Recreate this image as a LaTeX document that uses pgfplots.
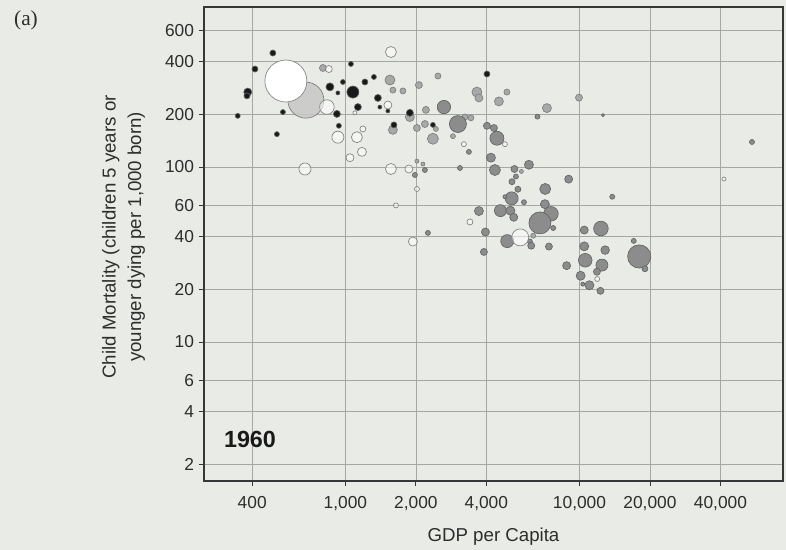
\documentclass[border=0pt]{standalone}
\usepackage{pgfplots}
\pgfplotsset{compat=1.18}
\usepackage{fontspec}
\setmainfont{Liberation Sans}
\newfontfamily\seriffont{Liberation Serif}
\definecolor{bg}{RGB}{233,235,230}
\definecolor{gridc}{RGB}{165,167,163}
\definecolor{axc}{RGB}{55,55,55}
\definecolor{txt}{RGB}{45,45,45}
\definecolor{gfill}{RGB}{140,140,140}
\definecolor{gdraw}{RGB}{100,100,100}
\definecolor{lfill}{RGB}{168,168,168}
\definecolor{ldraw}{RGB}{125,125,125}
\definecolor{kfill}{RGB}{25,25,25}
\definecolor{kdraw}{RGB}{95,95,95}
\definecolor{wdraw}{RGB}{130,130,130}
\pgfplotsset{
  bubble/.style n args={3}{scatter, only marks, mark=*,
    scatter/use mapped color={draw=#1, fill=#2, fill opacity=#3},
    visualization depends on={0.75*\thisrow{r} \as \rr},
    scatter/@pre marker code/.append style={/tikz/mark size=\rr},
    line width=0.5pt}
}
\begin{document}
\begin{tikzpicture}
\fill[bg] (0,0) rectangle (589.5pt,412.5pt);
\useasboundingbox (0,0) rectangle (589.5pt,412.5pt);
\begin{axis}[
  at={(153pt,51.75pt)}, anchor=south west,
  scale only axis, width=434.25pt, height=355.5pt,
  xmode=log, ymode=log,
  xmin=249, xmax=74000, ymin=1.605, ymax=821,
  xtick={400,1000,2000,4000,10000,20000,40000},
  xticklabels={400,{1,000},{2,000},{4,000},{10,000},{20,000},{40,000}},
  ytick={2,4,6,10,20,40,60,100,200,400,600},
  yticklabels={2,4,6,10,20,40,60,100,200,400,600},
  minor tick num=0,
  grid=major,
  grid style={gridc, line width=0.5pt},
  axis line style={axc, line width=0.9pt},
  tick style={axc, line width=0.6pt},
  major tick length=4pt,
  tick align=outside,
  tick pos=left,
  ticklabel style={font=\fontsize{13}{15}\selectfont, text=txt},
  xticklabel style={yshift=-4pt},
  xlabel={GDP per Capita},
  xlabel style={font=\fontsize{14}{17}\selectfont, text=txt, at={(axis description cs:0.5,-0.118)}, anchor=center},
  ylabel={Child Mortality (children 5 years or\\younger dying per 1,000 born)},
  ylabel style={align=center, font=\fontsize{14}{19}\selectfont, text=txt, at={(axis description cs:-0.139,0.515)}, anchor=center},
  clip=true,
]
% India-like large light bubble
\addplot[bubble={ldraw}{black!22}{0.85}] table[x=x,y=y] {
x y r
678 241 18
};
% light grey bubbles
\addplot[bubble={ldraw}{lfill}{1}] table[x=x,y=y] {
x y r
802 368 3.5
1550 314 5
1596 275 3
1761 272 3
1596 163 4.5
1886 193 4.5
2061 294 3.5
2485 331 3
2208 212 3.5
2021 167 3.5
2186 176 3.5
2436 165 2.5
2365 145 5.5
3646 268 5
3719 248 4
3241 193 3
3437 191 3
2880 150 2.5
2021 108 2
2144 104 2
4897 268 3
4527 237 4.5
7260 217 4.5
9948 249 3.5
5648 94.3 2
6344 40.5 2.5
};
% grey bubbles
\addplot[bubble={gdraw}{gfill}{1}] table[x=x,y=y] {
x y r
2636 220 6.7
3025 176 8.5
4024 172 3.5
4310 167 3.5
4439 146 7
3370 122 2.5
4186 113 4.5
4352 96.1 5.5
3086 98.7 2.5
2186 96.1 2.5
1982 90.0 2.5
3719 56.0 4.5
3965 42.5 4
2252 42.0 2.5
3907 32.7 3.5
4596 56.3 6
6613 194 2.5
12594 198 1.5
54540 139 2.5
6081 103 4.5
5273 97.4 3.5
5352 88.2 2.5
5146 82.4 3
8988 85.2 4
7138 74.9 5.5
5457 74.6 3
13800 67.6 2.5
5131 66.2 6.5
4802 67.6 2
5790 62.9 2.5
7118 61.3 4.5
7551 54.0 7.3
5069 56.3 4.5
5237 51.6 4
6777 47.9 11
7725 44.8 2.5
12348 44.5 7.3
10478 43.6 4
4912 37.7 6.5
6140 37.5 2.5
6220 35.5 3.5
7404 35.1 3.5
10478 35.2 4.5
12868 33.5 4.3
17048 37.8 2.5
17996 30.8 11.6
19035 26.2 3
8812 27.3 4
10582 29.3 6.8
12470 27.5 6
11870 25.2 3.5
10112 23.9 4.5
11027 21.1 4.5
10324 21.4 2
12286 19.6 3.5
};
% dark bubbles
\addplot[bubble={kdraw}{kfill}{1}] table[x=x,y=y] {
x y r
490 448 3
411 363 3
383 268 4
380 255 3
347 196 2.5
541 206 2.5
510 154 2.5
1056 388 2.5
859 287 4
976 306 2.5
929 265 2
1077 268 6
1212 306 3
1324 327 2.5
1377 248 3.5
1131 220 3.5
920 201 3.5
938 172 2.5
1404 220 2
1519 209 2
1612 174 3
1886 204 3.5
2365 174 2.5
4024 340 3
};
% open (white) bubbles
\addplot[bubble={wdraw}{white}{0.55}] table[x=x,y=y] {
x y r
1565 454 5.5
834 220 7.3
850 363 3.5
929 148 6
1120 148 5.5
1188 165 3
1177 122 4.5
1046 113 4
1519 226 4
672 97.4 6
1565 97.4 5.5
3208 135 2.5
1868 97.4 4
2021 74.9 2.5
1644 60.3 2.5
1098 204 2
3404 48.5 3
1943 37.5 4.5
41390 85.4 2
4802 135 2.5
5583 39.6 8.5
11905 22.9 2.5
};
% China-like large white bubble
\addplot[bubble={wdraw}{white}{1}] table[x=x,y=y] {
x y r
557 310 21
};
\node[font=\bfseries\fontsize{17.5}{20}\selectfont, text=black!90, anchor=center] at (axis description cs:0.0794,0.0876) {1960};
\end{axis}
\node[font=\seriffont\fontsize{16}{18}\selectfont, text=txt, anchor=center] at (19.5pt,397.5pt) {(a)};
\end{tikzpicture}
\end{document}
